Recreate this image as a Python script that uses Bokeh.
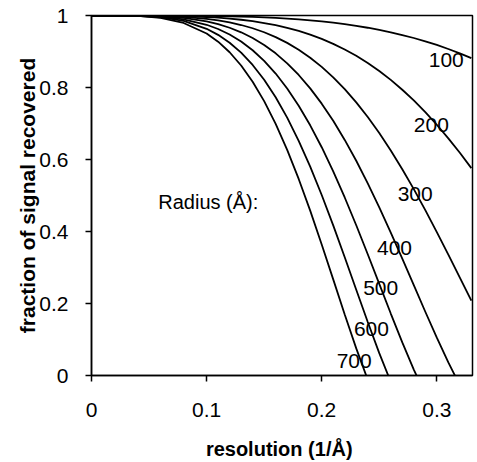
from bokeh.plotting import figure
from bokeh.models import Range1d, FixedTicker, NumeralTickFormatter
from bokeh.core.properties import value
from bokeh.embed import file_html
from bokeh.resources import INLINE

# resolution (1/Å) sample positions
RES = [0.0, 0.02, 0.04, 0.06, 0.08, 0.10, 0.11, 0.12, 0.13, 0.14, 0.15, 0.16,
       0.17, 0.18, 0.19, 0.20, 0.21, 0.22, 0.23, 0.24, 0.25, 0.26, 0.27, 0.28,
       0.29, 0.30, 0.31, 0.32, 0.33]

# fraction of signal recovered
R100 = [1.0, 1.0, 1.0, 0.9999, 0.9996, 0.9990, 0.9985, 0.9979, 0.9970, 0.9960,
        0.9948, 0.9932, 0.9914, 0.9892, 0.9866, 0.9835, 0.9800, 0.9759, 0.9713,
        0.9660, 0.9600, 0.9533, 0.9458, 0.9375, 0.9283, 0.9182, 0.9070, 0.8949, 0.8816]
R200 = [1.0, 1.0, 0.9999, 0.9995, 0.9983, 0.9959, 0.9939, 0.9914, 0.9882, 0.9842,
        0.9791, 0.9731, 0.9657, 0.9571, 0.9469, 0.9350, 0.9213, 0.9057, 0.8880,
        0.8680, 0.8458, 0.8211, 0.7938, 0.7640, 0.7316, 0.6965, 0.6588, 0.6187, 0.5761]
R300 = [1.0, 1.0, 0.9998, 0.9988, 0.9962, 0.9907, 0.9864, 0.9808, 0.9736, 0.9646,
        0.9535, 0.9400, 0.9239, 0.9049, 0.8828, 0.8573, 0.8282, 0.7954, 0.7587,
        0.7181, 0.6735, 0.6251, 0.5731, 0.5176, 0.4593, 0.3984, 0.3358, 0.2720, 0.2080]
R400 = [1.0, 1.0, 0.9996, 0.9979, 0.9932, 0.9835, 0.9759, 0.9660, 0.9533, 0.9375,
        0.9182, 0.8949, 0.8672, 0.8348, 0.7975, 0.7551, 0.7074, 0.6544, 0.5965,
        0.5339, 0.4672, 0.3971, 0.3245, 0.2508, 0.1771, 0.1051, 0.0364, -0.0272]
R500 = [1.0, 1.0, 0.9993, 0.9967, 0.9894, 0.9743, 0.9625, 0.9471, 0.9276, 0.9034,
        0.8739, 0.8387, 0.7972, 0.7494, 0.6950, 0.6341, 0.5671, 0.4945, 0.4173,
        0.3368, 0.2544, 0.1721, 0.0920, 0.0164, -0.0522]
R600 = [1.0, 0.9999, 0.9990, 0.9952, 0.9848, 0.9631, 0.9463, 0.9244, 0.8968, 0.8627,
        0.8216, 0.7728, 0.7163, 0.6519, 0.5800, 0.5013, 0.4170, 0.3286, 0.2383,
        0.1485, 0.0621, -0.0177]
R700 = [1.0, 0.9999, 0.9987, 0.9934, 0.9793, 0.9500, 0.9273, 0.8980, 0.8612, 0.8160,
        0.7621, 0.6989, 0.6267, 0.5460, 0.4579, 0.3641, 0.2670, 0.1696, 0.0753, -0.0118]

SERIES = [R100, R200, R300, R400, R500, R600, R700]

# curve labels (radius in Å) and where they sit
LABEL_TEXT = ["100", "200", "300", "400", "500", "600", "700"]
LABEL_X = [0.293, 0.280, 0.266, 0.248, 0.236, 0.228, 0.213]
LABEL_Y = [0.876, 0.697, 0.505, 0.355, 0.242, 0.130, 0.041]
LEGEND_TITLE = ["Radius (Å):"]
LEGEND_X = [0.058]
LEGEND_Y = [0.483]

X_TICKS = [0, 0.1, 0.2, 0.3]
Y_TICKS = [0, 0.2, 0.4, 0.6, 0.8, 1.0]

X_TITLE = "resolution  (1/Å)"
Y_TITLE = "fraction of signal recovered"

FONT = "Liberation Sans"

p = figure(width=477, height=462,
           x_range=Range1d(0, 0.331), y_range=Range1d(0, 1),
           output_backend="svg", toolbar_location=None,
           min_border_left=91, min_border_right=5,
           min_border_top=15, min_border_bottom=87)

p.xgrid.visible = False
p.ygrid.visible = False
p.background_fill_color = "white"
p.border_fill_color = "white"
p.outline_line_color = "black"
p.outline_line_width = 1.5
p.outline_line_alpha = 1.0

for ys in SERIES:
    p.line(RES[:len(ys)], ys, line_color="black", line_width=1.8)

p.text(x=LABEL_X, y=LABEL_Y, text=LABEL_TEXT,
       text_font=value(FONT), text_font_size="21px",
       text_align="left", text_baseline="middle", text_color="black")
p.text(x=LEGEND_X, y=LEGEND_Y, text=LEGEND_TITLE,
       text_font=value(FONT), text_font_size="20px",
       text_align="left", text_baseline="middle", text_color="black")

for ax, ticks in ((p.xaxis[0], X_TICKS), (p.yaxis[0], Y_TICKS)):
    ax.ticker = FixedTicker(ticks=ticks)
    ax.formatter = NumeralTickFormatter(format="0.[0]")
    ax.axis_line_color = "black"
    ax.axis_line_width = 1.5
    ax.major_tick_line_color = "black"
    ax.major_tick_line_width = 1.5
    ax.major_tick_in = 0
    ax.major_tick_out = 6
    ax.minor_tick_line_color = None
    ax.major_label_text_font = FONT
    ax.major_label_text_font_size = "21px"
    ax.major_label_text_color = "black"
    ax.axis_label_text_font = FONT
    ax.axis_label_text_font_style = "bold"
    ax.axis_label_text_color = "black"

p.xaxis.axis_label = X_TITLE
p.xaxis.axis_label_text_font_size = "20px"
p.xaxis.major_label_standoff = 21
p.xaxis.axis_label_standoff = 18

p.yaxis.axis_label = Y_TITLE
p.yaxis.axis_label_text_font_size = "21px"
p.yaxis.major_label_standoff = 17
p.yaxis.axis_label_standoff = -3

open("out.html", "w").write(file_html(p, INLINE))
